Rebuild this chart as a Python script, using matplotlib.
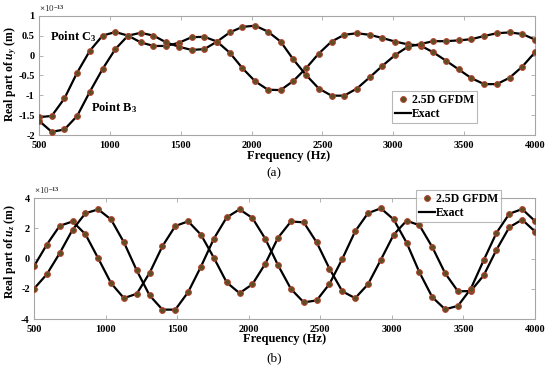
import matplotlib
matplotlib.use("Agg")
import matplotlib.pyplot as plt
import numpy as np
from matplotlib.lines import Line2D
from matplotlib.ticker import FuncFormatter

plt.rcParams['font.family'] = ['Liberation Serif', 'DejaVu Serif']
plt.rcParams['mathtext.fontset'] = 'custom'
plt.rcParams['mathtext.rm'] = 'Liberation Serif:bold'
plt.rcParams['mathtext.it'] = 'Liberation Serif:italic:bold'
plt.rcParams['mathtext.bf'] = 'Liberation Serif:bold'

# frequencies (Hz), 40 samples from 500 to 4000
freq = np.linspace(500, 4000, 40)

# (a) real part of u_y, units of 1e-13 m
uy_c3 = [-1.55, -1.52, -1.08, -0.43, 0.12, 0.50, 0.59, 0.50, 0.33, 0.24,
         0.24, 0.32, 0.46, 0.47, 0.35, 0.07, -0.32, -0.65, -0.86, -0.87,
         -0.64, -0.32, 0.05, 0.35, 0.52, 0.56, 0.52, 0.44, 0.35, 0.28,
         0.25, 0.08, -0.13, -0.35, -0.57, -0.72, -0.72, -0.56, -0.28, 0.08]
uy_b3 = [-1.64, -1.92, -1.86, -1.52, -0.91, -0.34, 0.16, 0.50, 0.57, 0.50,
         0.33, 0.22, 0.14, 0.16, 0.35, 0.58, 0.72, 0.75, 0.60, 0.35,
         -0.10, -0.49, -0.83, -1.01, -1.01, -0.83, -0.55, -0.26, 0.01, 0.22,
         0.29, 0.36, 0.36, 0.38, 0.41, 0.49, 0.56, 0.58, 0.54, 0.40]

# (b) real part of u_z, units of 1e-13 m
uz_1 = [-0.51, 0.92, 2.16, 2.45, 1.61, 0.01, -1.63, -2.62, -2.33, -0.95,
        0.82, 2.15, 2.46, 1.57, 0.05, -1.58, -2.29, -1.70, -0.35, 1.38,
        2.45, 2.39, 1.07, -0.67, -2.17, -2.62, -1.70, -0.08, 1.58, 2.50,
        2.20, 0.76, -0.97, -2.17, -2.15, -1.12, 0.58, 2.07, 2.57, 1.78]
uz_2 = [-2.00, -1.04, 0.35, 1.90, 2.99, 3.25, 2.58, 1.07, -0.79, -2.44,
        -3.38, -3.38, -2.22, -0.53, 1.31, 2.72, 3.25, 2.68, 1.31, -0.45,
        -2.01, -2.90, -2.77, -1.68, -0.02, 1.80, 3.00, 3.32, 2.58, 1.05,
        -0.91, -2.55, -3.36, -3.13, -2.00, -0.12, 1.70, 2.96, 3.27, 2.47]

xticks = [500, 1000, 1500, 2000, 2500, 3000, 3500, 4000]

mk = dict(marker='o', linestyle='none', markersize=4.2, markerfacecolor='#5e4e26',
          markeredgecolor='#b8432e', markeredgewidth=0.7)
spine_col = '#a6a6a6'

fig = plt.figure(figsize=(5.5, 3.7), dpi=100)
ax1 = fig.add_axes([0.0709, 0.635, 0.9018, 0.3225])
ax2 = fig.add_axes([0.0618, 0.1378, 0.911, 0.327])

fmt = FuncFormatter(lambda v, p: ('%g' % v))


def style(ax):
    for s in ax.spines.values():
        s.set_color(spine_col)
        s.set_linewidth(0.8)
    ax.tick_params(direction='in', top=True, right=True, length=3, width=0.6,
                   color=spine_col, labelsize=7.5)
    ax.tick_params(axis='x', pad=4.5)
    ax.tick_params(axis='y', pad=3)
    for t in ax.get_xticklabels() + ax.get_yticklabels():
        t.set_fontweight('bold')
    ax.set_xlim(500, 4000)
    ax.set_xticks(xticks)
    ax.xaxis.set_major_formatter(fmt)
    ax.yaxis.set_major_formatter(fmt)


for ax, series in ((ax1, (uy_c3, uy_b3)), (ax2, (uz_1, uz_2))):
    for s in series:
        ax.plot(freq, s, color='black', linewidth=1.6, zorder=2)
        ax.plot(freq, s, zorder=3, **mk)

ax1.set_ylim(-2, 1)
ax1.set_yticks(np.arange(-2, 1.01, 0.5))
ax2.set_ylim(-4, 4)
ax2.set_yticks([-4, -2, 0, 2, 4])
style(ax1)
style(ax2)

ax1.text(575, 0.47, 'Point C$_3$', fontsize=9, fontweight='bold', ha='left', va='center')
ax1.text(870, -1.30, 'Point B$_3$', fontsize=9, fontweight='bold', ha='left', va='center')

handles = [Line2D([], [], **mk), Line2D([], [], color='black', linewidth=1.6)]
labels = ['2.5D GFDM', 'Exact']
legkw = dict(prop={'weight': 'bold', 'size': 8.5}, frameon=True, fancybox=False,
             handlelength=1.3, handletextpad=0.1, borderpad=0.25, labelspacing=0.15,
             borderaxespad=0)
lg1 = ax1.legend(handles, labels, loc='lower right', bbox_to_anchor=(0.883, 0.10), **legkw)
lg2 = ax2.legend(handles, labels, loc='upper right', bbox_to_anchor=(0.932, 1.066), **legkw)
for lg in (lg1, lg2):
    lg.get_frame().set_edgecolor(spine_col)
    lg.get_frame().set_linewidth(0.8)

# offset exponents
ax1.text(0.0, 1.015, r'$\times$10$^{-13}$', transform=ax1.transAxes, fontsize=6.5,
         fontweight='normal', ha='left', va='bottom', color='#333333')
ax2.text(0.0, 1.015, r'$\times$10$^{-13}$', transform=ax2.transAxes, fontsize=6.5,
         fontweight='normal', ha='left', va='bottom', color='#333333')

fig.text(0.524, 0.578, 'Frequency (Hz)', fontsize=9, fontweight='bold', ha='center', va='center')
fig.text(0.518, 0.084, 'Frequency (Hz)', fontsize=9, fontweight='bold', ha='center', va='center')
fig.text(0.020, 1 - 74 / 370, r'Real part of $u_y$ (m)', fontsize=8.5, fontweight='bold',
         rotation=90, ha='center', va='center')
fig.text(0.018, 1 - 251 / 370, r'Real part of $u_z$ (m)', fontsize=8.5, fontweight='bold',
         rotation=90, ha='center', va='center')
fig.text(0.498, 1 - 173 / 370, '(a)', fontsize=9.5, ha='center', va='center')
fig.text(0.498, 1 - 358 / 370, '(b)', fontsize=9.5, ha='center', va='center')

fig.savefig('out.png', dpi=100)
